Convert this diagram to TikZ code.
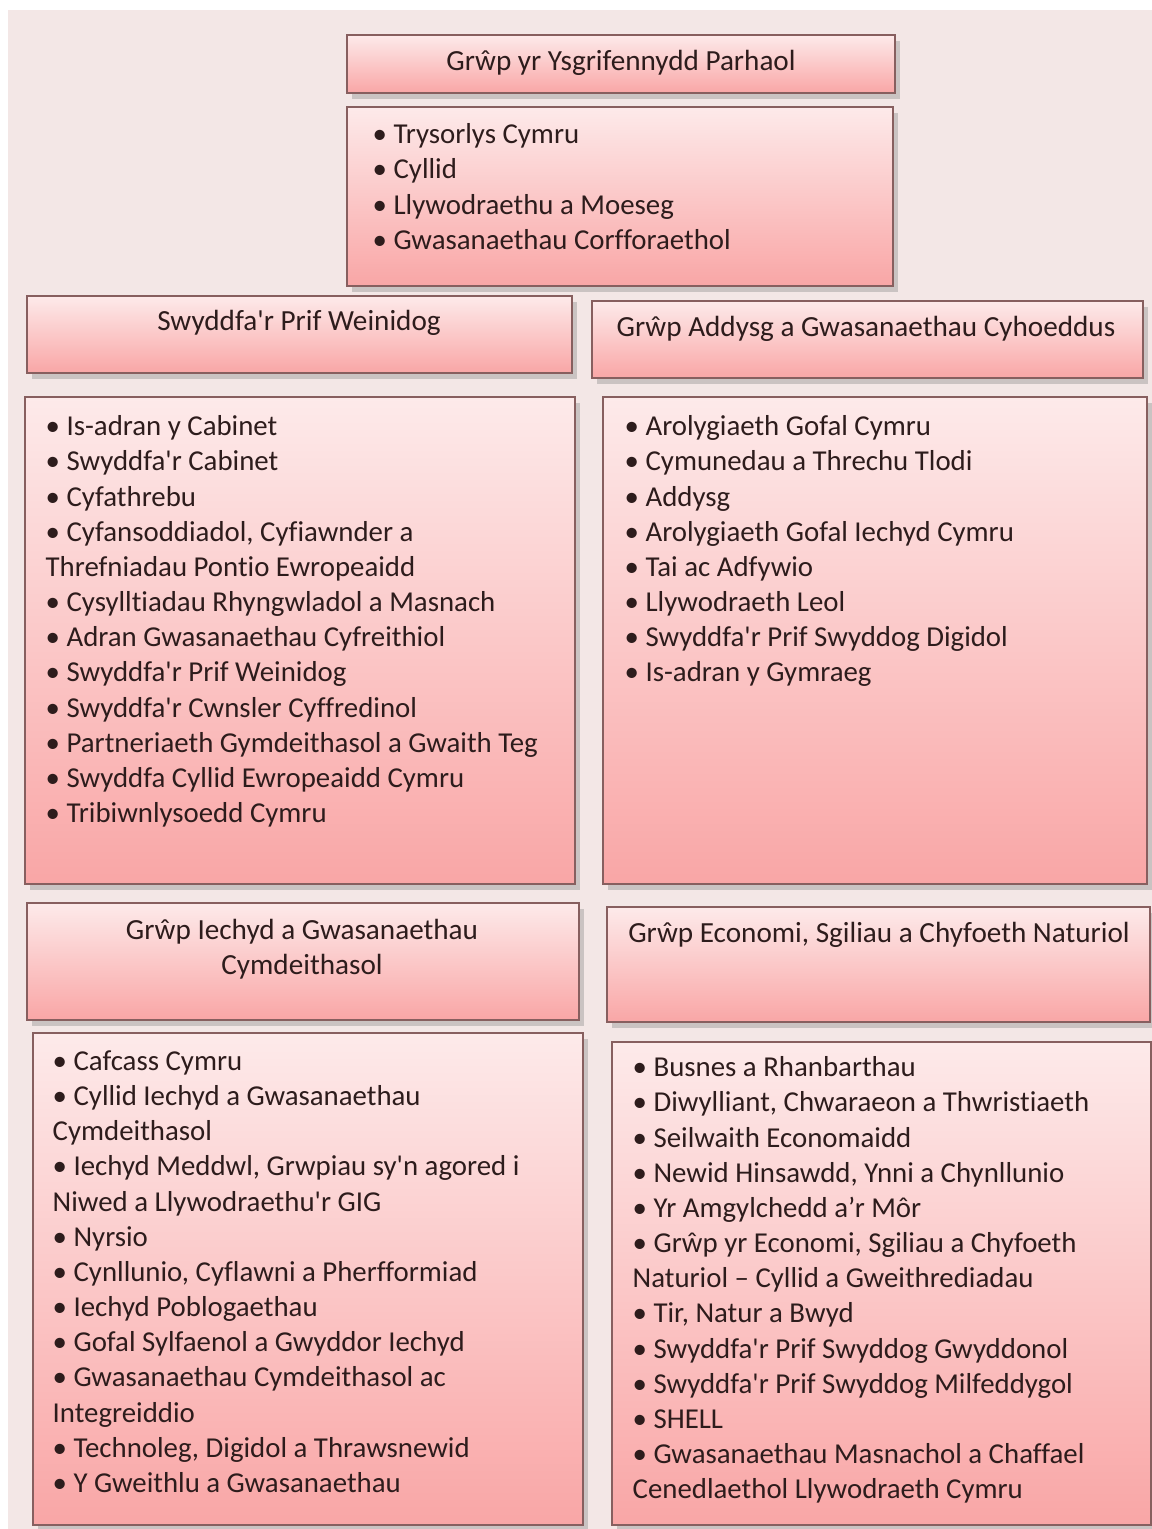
\documentclass[tikz,border=0pt]{standalone}
\usepackage{fontspec}
\setmainfont{Carlito}[Ligatures={TeXOff,NoCommon}]
\usetikzlibrary{fit,shadows}

\definecolor{bgpink}{RGB}{243,231,230}
\definecolor{pinktop}{RGB}{253,234,234}
\definecolor{pinkbot}{RGB}{249,166,166}
\definecolor{edgered}{RGB}{135,95,95}
\definecolor{inkdark}{RGB}{45,28,28}

\tikzset{
	unitbox/.style={draw=edgered, line width=0.3pt, top color=pinktop, bottom color=pinkbot, inner sep=0pt,
		drop shadow={shadow xshift=0.5mm, shadow yshift=-0.6mm, opacity=0.35}},
	headtext/.style={font=\fontsize{8.3}{9.9}\selectfont, text=inkdark, inner sep=0pt, align=center},
	listtext/.style={font=\fontsize{8.2}{10}\selectfont, text=inkdark, inner sep=0pt, align=left, anchor=north west},
}

\begin{document}
\begin{tikzpicture}[x=0.01cm, y=-0.01cm]
		
		\useasboundingbox (0,0) rectangle (1152,1529);
		\fill[bgpink] (8,10) rectangle (1152,1529);
		
		% Permanent Secretary's group
		\node[unitbox, fit={(347,35) (895,93)}] (perm) {};
		\node[headtext] (perm-t) at (621,63) {Grŵp yr Ysgrifennydd Parhaol};
		\node[unitbox, fit={(347,107) (893,286)}] (permlist) {};
		\node[listtext] (permlist-t) at (372,123) {• Trysorlys Cymru\\• Cyllid\\• Llywodraethu a Moeseg\\• Gwasanaethau Corfforaethol};
		
		% First Minister's office
		\node[unitbox, fit={(27,296) (572,373)}] (fm) {};
		\node[headtext] (fm-t) at (299,323) {Swyddfa'r Prif Weinidog};
		\node[unitbox, fit={(25,397) (575,884)}] (fmlist) {};
		\node[listtext] (fmlist-t) at (45,415) {• Is-adran y Cabinet\\• Swyddfa'r Cabinet\\• Cyfathrebu\\• Cyfansoddiadol, Cyfiawnder a\\Threfniadau Pontio Ewropeaidd\\• Cysylltiadau Rhyngwladol a Masnach\\• Adran Gwasanaethau Cyfreithiol\\• Swyddfa'r Prif Weinidog\\• Swyddfa'r Cwnsler Cyffredinol\\• Partneriaeth Gymdeithasol a Gwaith Teg\\• Swyddfa Cyllid Ewropeaidd Cymru\\• Tribiwnlysoedd Cymru};
		
		% Education and public services
		\node[unitbox, fit={(592,301) (1143,378)}] (edu) {};
		\node[headtext] (edu-t) at (866,329) {Grŵp Addysg a Gwasanaethau Cyhoeddus};
		\node[unitbox, fit={(603,397) (1147,884)}] (edulist) {};
		\node[listtext] (edulist-t) at (624,415) {• Arolygiaeth Gofal Cymru\\• Cymunedau a Threchu Tlodi\\• Addysg\\• Arolygiaeth Gofal Iechyd Cymru\\• Tai ac Adfywio\\• Llywodraeth Leol\\• Swyddfa'r Prif Swyddog Digidol\\• Is-adran y Gymraeg};
		
		% Health and social services
		\node[unitbox, fit={(27,903) (579,1020)}] (health) {};
		\node[headtext] (health-t) at (302,949) {Grŵp Iechyd a Gwasanaethau\\Cymdeithasol};
		\node[unitbox, fit={(33,1033) (583,1525)}] (healthlist) {};
		\node[listtext] (healthlist-t) at (52,1050) {• Cafcass Cymru\\• Cyllid Iechyd a Gwasanaethau\\Cymdeithasol\\• Iechyd Meddwl, Grwpiau sy'n agored i\\Niwed a Llywodraethu'r GIG\\• Nyrsio\\• Cynllunio, Cyflawni a Pherfformiad\\• Iechyd Poblogaethau\\• Gofal Sylfaenol a Gwyddor Iechyd\\• Gwasanaethau Cymdeithasol ac\\Integreiddio\\• Technoleg, Digidol a Thrawsnewid\\• Y Gweithlu a Gwasanaethau};
		
		% Economy, skills and natural resources
		\node[unitbox, fit={(607,907) (1150,1022)}] (econ) {};
		\node[headtext] (econ-t) at (879,935) {Grŵp Economi, Sgiliau a Chyfoeth Naturiol};
		\node[unitbox, fit={(612,1042) (1151,1525)}] (econlist) {};
		\node[listtext] (econlist-t) at (632,1056) {• Busnes a Rhanbarthau\\• Diwylliant, Chwaraeon a Thwristiaeth\\• Seilwaith Economaidd\\• Newid Hinsawdd, Ynni a Chynllunio\\• Yr Amgylchedd a’r Môr\\• Grŵp yr Economi, Sgiliau a Chyfoeth\\Naturiol – Cyllid a Gweithrediadau\\• Tir, Natur a Bwyd\\• Swyddfa'r Prif Swyddog Gwyddonol\\• Swyddfa'r Prif Swyddog Milfeddygol\\• SHELL\\• Gwasanaethau Masnachol a Chaffael\\Cenedlaethol Llywodraeth Cymru};
		
	\end{tikzpicture}
\end{document}
